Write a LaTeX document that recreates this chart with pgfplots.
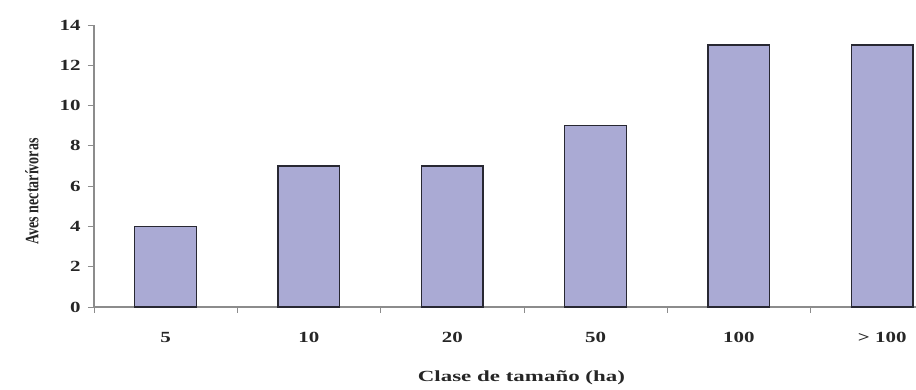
\documentclass[border=0pt]{standalone}
\usepackage{fontspec}
\setmainfont{Liberation Serif}
\usepackage{graphicx}
\usepackage{pgfplots}
\pgfplotsset{compat=1.18}
\definecolor{barfill}{RGB}{170,170,212}
\definecolor{baredge}{RGB}{40,40,50}
\definecolor{axisgray}{RGB}{140,140,140}
\newcommand{\sx}[1]{\scalebox{1.35}[1]{#1}}
\begin{document}
\begin{tikzpicture}
\path[use as bounding box] (-94pt,-83pt) rectangle (822pt,307pt);
\begin{axis}[
  at={(0,0)}, anchor=south west,
  scale only axis, width=822pt, height=282pt,
  xmin=-0.5, xmax=5.236, ymin=0, ymax=14,
  axis lines*=left,
  axis line style={axisgray, line width=1.6pt},
  clip=false,
  font=\fontsize{15.5}{18}\selectfont\bfseries,
  /pgf/number format/assume math mode=true,
  xtick={0,1,2,3,4,5},
  xticklabels={\sx{5},\sx{10},\sx{20},\sx{50},\sx{100},\sx{> 100}},
  major x tick style={draw=none},
  minor xtick={-0.5,0.5,1.5,2.5,3.5,4.5},
  minor x tick style={axisgray, line width=0.8pt},
  minor tick length=6pt,
  ytick={0,2,...,14},
  yticklabel={\sx{\pgfmathprintnumber{\tick}}},
  y tick style={axisgray, line width=0.8pt},
  major tick length=6pt,
  tick align=outside,
  xticklabel style={yshift=-16pt, text=black!85},
  yticklabel style={xshift=-4pt, text=black!85},
  xlabel={\scalebox{1.48}[1]{Clase de tamaño (ha)}},
  ylabel={\fontsize{14}{16}\selectfont\scalebox{1}[1.35]{Aves nectarívoras}},
  xlabel style={at={(axis description cs:0.52,-0.252)}, anchor=center, text=black!85},
  ylabel style={at={(axis description cs:-0.0754,0.41)}, anchor=center, rotate=0, text=black!85},
]
\addplot[ybar, bar width=0.43, fill=barfill, draw=baredge, line width=1.3pt]
  coordinates {(0,4) (1,7) (2,7) (3,9) (4,13) (5,13)};
\end{axis}
\end{tikzpicture}
\end{document}
